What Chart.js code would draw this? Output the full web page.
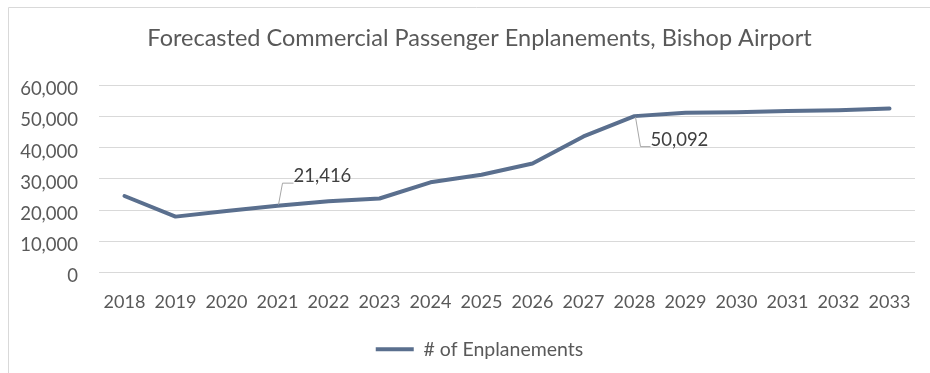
<!DOCTYPE html>
<html>
<head>
<meta charset="utf-8">
<script src="https://cdn.jsdelivr.net/npm/chart.js@4.4.1/dist/chart.umd.min.js"></script>
<style>
  html, body { margin: 0; padding: 0; background: #fff; overflow: hidden; }
  /* the source chart frame runs a little past the right edge of the picture */
  #wrap { position: relative; width: 945px; height: 373px; }
</style>
</head>
<body>
<div id="wrap"><canvas id="enplanementsChart"></canvas></div>
<script>
const years = ['2018', '2019', '2020', '2021', '2022', '2023', '2024', '2025',
               '2026', '2027', '2028', '2029', '2030', '2031', '2032', '2033'];
const enplanements = [24500, 17900, 19700, 21416, 22800, 23700, 28900, 31300,
                      34900, 43600, 50092, 51200, 51300, 51700, 52000, 52500];
const yTicks = [0, 10000, 20000, 30000, 40000, 50000, 60000];
const labelledPoints = [3, 10]; // 2021 and 2028 carry data labels

const textColor = '#595959';
const lineColor = '#5a6f8e';
const gridColor = '#d9d9d9';

// light frame round the chart, like the source document
const framePlugin = {
    id: 'frame',
    beforeDraw(chart) {
        const ctx = chart.ctx;
        ctx.save();
        ctx.strokeStyle = gridColor;
        ctx.lineWidth = 1;
        ctx.beginPath();
        ctx.moveTo(8.5, chart.height);
        ctx.lineTo(8.5, 7.5);
        ctx.lineTo(chart.width, 7.5);
        ctx.stroke();
        ctx.restore();
    }
};

// data labels with leader lines
const dataLabelPlugin = {
    id: 'dataLabels',
    afterDatasetsDraw(chart) {
        const ctx = chart.ctx;
        const meta = chart.getDatasetMeta(0);
        ctx.save();
        ctx.font = '18.5px Lato';
        ctx.fillStyle = '#404040';
        ctx.strokeStyle = '#a6a6a6';
        ctx.lineWidth = 1;
        ctx.textBaseline = 'middle';
        ctx.textAlign = 'left';
        labelledPoints.forEach((i, n) => {
            const pt = meta.data[i];
            const text = enplanements[i].toLocaleString('en-US');
            ctx.beginPath();
            if (n === 0) {
                ctx.moveTo(pt.x + 1, pt.y - 1);
                ctx.lineTo(pt.x + 5, pt.y - 22.5);
                ctx.lineTo(pt.x + 16, pt.y - 22.5);
                ctx.stroke();
                ctx.fillText(text, pt.x + 16, pt.y - 30);
            } else {
                ctx.moveTo(pt.x + 1, pt.y + 1);
                ctx.lineTo(pt.x + 6, pt.y + 30.5);
                ctx.lineTo(pt.x + 16, pt.y + 30.5);
                ctx.stroke();
                ctx.fillText(text, pt.x + 16, pt.y + 24);
            }
        });
        ctx.restore();
    }
};

const ctx = document.getElementById('enplanementsChart').getContext('2d');
new Chart(ctx, {
    type: 'line',
    data: {
        labels: years,
        datasets: [{
            label: '# of Enplanements',
            data: enplanements,
            borderColor: lineColor,
            backgroundColor: lineColor,
            borderWidth: 4,
            borderCapStyle: 'round',
            borderJoinStyle: 'round',
            pointRadius: 0,
            pointHoverRadius: 0,
            tension: 0,
            fill: false
        }]
    },
    options: {
        responsive: true,
        maintainAspectRatio: false,
        animation: false,
        events: [],
        layout: { padding: { left: 14, right: 0, top: 0, bottom: 4 } },
        plugins: {
            title: {
                display: true,
                text: 'Forecasted Commercial Passenger Enplanements, Bishop Airport',
                color: textColor,
                font: { family: 'Lato', size: 23.5, weight: 'normal', lineHeight: 1.2 },
                padding: { top: 24, bottom: 33 }
            },
            legend: {
                display: true,
                position: 'bottom',
                labels: {
                    color: textColor,
                    font: { family: 'Lato', size: 19.5 },
                    usePointStyle: true,
                    pointStyle: 'line',
                    pointStyleWidth: 38,
                    padding: 10
                }
            },
            tooltip: { enabled: false }
        },
        scales: {
            x: {
                offset: true,
                grid: { display: false, drawTicks: false },
                border: { display: false },
                ticks: {
                    color: textColor,
                    font: { family: 'Lato', size: 18 },
                    padding: 19,
                    maxRotation: 0,
                    autoSkip: false
                },
                afterFit: scale => { scale.height = 57; }
            },
            y: {
                min: 0,
                max: 60000,
                grid: { color: gridColor, lineWidth: 1, drawTicks: false },
                border: { display: false },
                afterBuildTicks: scale => {
                    scale.ticks = yTicks.map(v => ({ value: v }));
                },
                ticks: {
                    color: textColor,
                    font: { family: 'Lato', size: 18.5 },
                    padding: 21,
                    labelOffset: 4,
                    callback: v => v.toLocaleString('en-US')
                },
                afterFit: scale => { scale.width = 99 - 14; }
            },
            // empty right-hand margin of the plot, the frame continues past the picture
            yRight: {
                position: 'right',
                min: 0,
                max: 60000,
                grid: { display: false, drawTicks: false },
                border: { display: false },
                ticks: { display: false },
                afterFit: scale => { scale.width = 30; }
            }
        }
    },
    plugins: [framePlugin, dataLabelPlugin]
});
</script>
</body>
</html>
